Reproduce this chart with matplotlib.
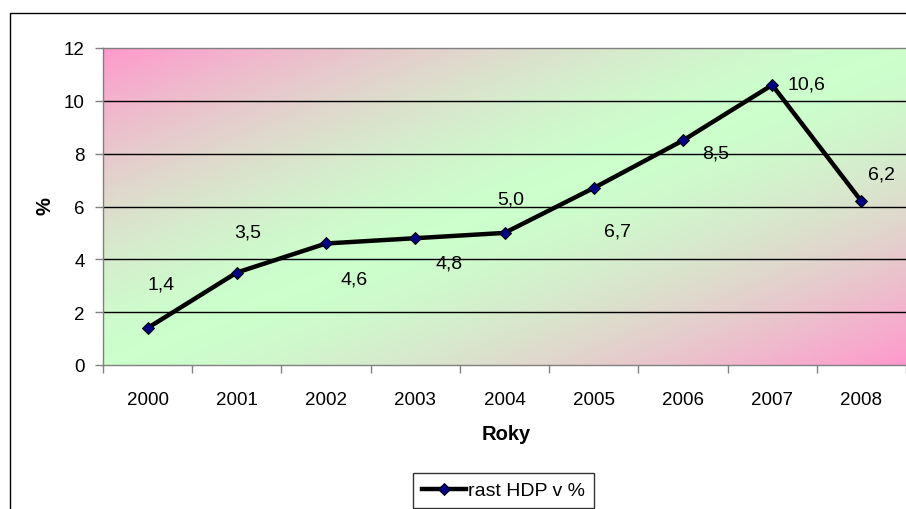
import matplotlib
matplotlib.use("Agg")
import matplotlib.pyplot as plt
import numpy as np
from matplotlib.colors import LinearSegmentedColormap
from matplotlib.patches import Rectangle

plt.rcParams["font.family"] = ["Liberation Sans", "DejaVu Sans"]

years = ["2000", "2001", "2002", "2003", "2004", "2005", "2006", "2007", "2008"]
gdp_growth = [1.4, 3.5, 4.6, 4.8, 5.0, 6.7, 8.5, 10.6, 6.2]
value_labels = ["1,4", "3,5", "4,6", "4,8", "5,0", "6,7", "8,5", "10,6", "6,2"]
y_ticks = [0, 2, 4, 6, 8, 10, 12]

# label offsets from each point, in pixels (x right, y up)
label_offsets = [(13, 44), (11, 41), (28, -36), (34, -25), (6, 34),
                 (24, -43), (33, -13), (34, 1), (20, 27)]

W, H = 906, 510
fig = plt.figure(figsize=(W / 100, H / 100), dpi=100)
fig.patch.set_facecolor("white")

# outer chart border (right and bottom run off the image)
fig.add_artist(Rectangle((10 / W, -0.2), 1.2, (H - 14) / H + 0.2,
                         transform=fig.transFigure, fill=False,
                         edgecolor="black", linewidth=1))

left, right, top, bottom = 103, 906, 49, 366
ax = fig.add_axes([left / W, 1 - bottom / H, (right - left) / W, (bottom - top) / H])

# diagonal gradient background: pink corners, green middle band
u = np.linspace(0, 1, 400)
v = np.linspace(0, 1, 200)
U, V = np.meshgrid(u, v)
t = np.abs(U - V) ** 1.5
cmap = LinearSegmentedColormap.from_list("pg", ["#CCFFCC", "#FF99CC"])
ax.imshow(t, cmap=cmap, vmin=0, vmax=1, origin="lower", aspect="auto",
          extent=[0, 1, 0, 1], transform=ax.transAxes, zorder=0)

x = np.arange(len(years))
ax.set_xlim(-0.5, len(years) - 0.5)
ax.set_ylim(0, 12)

for yv in y_ticks[1:-1]:
    ax.axhline(yv, color="black", linewidth=1, zorder=1)

ax.plot(x, gdp_growth, color="black", linewidth=3.2, marker="D", markersize=6,
        markerfacecolor="#000080", markeredgecolor="black", markeredgewidth=0.7,
        zorder=3, label="rast HDP v %")

for xi, yi, lab, (dx, dy) in zip(x, gdp_growth, value_labels, label_offsets):
    ax.annotate(lab, (xi, yi), xytext=(dx, dy), textcoords="offset pixels",
                ha="center", va="center", fontsize=14, zorder=4)

ax.set_yticks(y_ticks)
ax.set_yticklabels([str(v_) for v_ in y_ticks])
ax.set_xticks(np.arange(len(years) + 1) - 0.5, minor=False)
ax.set_xticklabels([])
ax.set_xticks(x, minor=True)
ax.set_xticklabels(years, minor=True)
ax.tick_params(axis="x", which="minor", length=0, pad=18.5, labelsize=13.5)
ax.tick_params(axis="x", which="major", length=6, color="#808080", width=1)
ax.tick_params(axis="y", length=6, color="#808080", width=1, pad=7, labelsize=13.5)

for side in ["left", "bottom", "top"]:
    ax.spines[side].set_color("#808080")
    ax.spines[side].set_linewidth(1)
ax.spines["right"].set_visible(False)

fig.text(506 / W, 1 - 435 / H, "Roky", ha="center", va="center",
         fontsize=14.5, fontweight="bold")
fig.text(45 / W, 1 - 206 / H, "%", ha="center", va="center",
         fontsize=14.5, fontweight="bold", rotation=90)

leg = fig.legend(loc="upper left", bbox_to_anchor=(413 / W, 1 - 474 / H),
                 fontsize=14, frameon=True, fancybox=False, handlelength=2.3,
                 handletextpad=0.1, borderpad=0.45, borderaxespad=0)
leg.get_frame().set_edgecolor("black")
leg.get_frame().set_linewidth(1)

fig.savefig("out.png", dpi=100)
